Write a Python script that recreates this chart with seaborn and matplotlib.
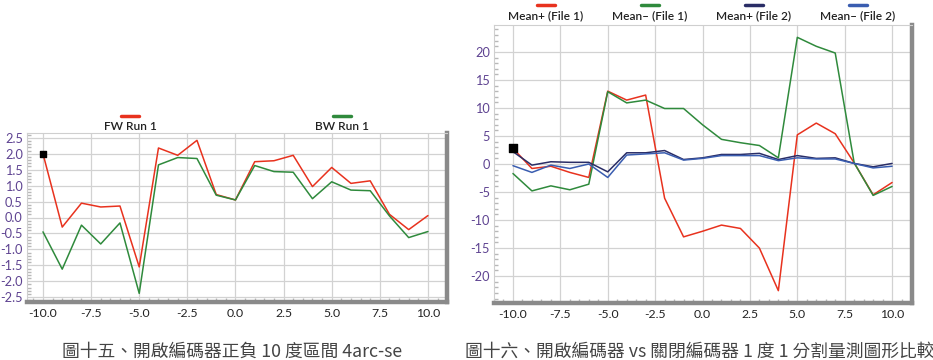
import numpy as np
import pandas as pd
import seaborn as sns
import matplotlib.pyplot as plt
from matplotlib.lines import Line2D
from matplotlib.ticker import MultipleLocator

# Datos: grafico izquierdo (FW / BW)
angulos = [-10, -9, -8, -7, -6, -5, -4, -3, -2, -1, 0, 1, 2, 3, 4, 5, 6, 7, 8, 9, 10]
fw_run1 = [2.0, -0.3, 0.45, 0.33, 0.36, -1.55, 2.18, 1.95, 2.42, 0.72, 0.55,
           1.75, 1.78, 1.95, 0.97, 1.57, 1.07, 1.15, 0.1, -0.38, 0.06]
bw_run1 = [-0.45, -1.62, -0.24, -0.83, -0.17, -2.38, 1.65, 1.88, 1.85, 0.7, 0.55,
           1.63, 1.44, 1.42, 0.59, 1.12, 0.86, 0.84, 0.05, -0.63, -0.44]

# Datos: grafico derecho (File 1 / File 2)
mean_pos_f1 = [2.8, -0.8, -0.4, -1.5, -2.4, 13.0, 11.4, 12.3, -6.1, -13.0, -12.0,
               -10.9, -11.5, -15.0, -22.6, 5.2, 7.3, 5.4, 0.2, -5.5, -3.3]
mean_neg_f1 = [-1.7, -4.8, -3.9, -4.6, -3.6, 12.9, 10.9, 11.4, 9.9, 9.9, 7.0,
               4.4, 3.8, 3.3, 1.1, 22.6, 21.0, 19.8, 0.2, -5.6, -4.0]
mean_pos_f2 = [2.2, -0.2, 0.4, 0.3, 0.3, -1.4, 2.0, 2.0, 2.4, 0.8, 1.1,
               1.7, 1.7, 1.9, 0.8, 1.5, 1.0, 1.1, 0.1, -0.5, 0.1]
mean_neg_f2 = [-0.3, -1.5, -0.2, -0.8, 0.0, -2.4, 1.6, 1.8, 2.0, 0.7, 1.0,
               1.5, 1.5, 1.5, 0.6, 1.1, 0.9, 0.9, 0.1, -0.7, -0.4]

series_izq = ['FW Run 1', 'BW Run 1']
series_der = ['Mean+ (File 1)', 'Mean\u2013 (File 1)', 'Mean+ (File 2)', 'Mean\u2013 (File 2)']
colores_izq = ['#e8321e', '#2f8a3c']
colores_der = ['#e8321e', '#2f8a3c', '#2a2d66', '#3a5db0']

caption_izq = '圖十五、開啟編碼器正負 10 度區間 4arc-se'
caption_der = '圖十六、開啟編碼器 vs 關閉編碼器 1 度 1 分割量測圖形比較'

df_izq = pd.DataFrame({'x': angulos * 2,
                       'y': fw_run1 + bw_run1,
                       'serie': [series_izq[0]] * 21 + [series_izq[1]] * 21})
df_der = pd.DataFrame({'x': angulos * 4,
                       'y': mean_pos_f1 + mean_neg_f1 + mean_pos_f2 + mean_neg_f2,
                       'serie': sum([[s] * 21 for s in series_der], [])})

sns.set_theme(style='whitegrid')
plt.rcParams['font.family'] = ['Lato', 'DejaVu Sans']

fig = plt.figure(figsize=(9.33, 3.6), dpi=100)
ax1 = fig.add_axes([27 / 933, 58 / 360, 420 / 933, 169 / 360])
ax2 = fig.add_axes([494 / 933, 57 / 360, 418 / 933, 278 / 360])


def estilo_ejes(ax, ymajor, yminor):
    ax.xaxis.set_major_locator(MultipleLocator(2.5))
    ax.xaxis.set_minor_locator(MultipleLocator(0.5))
    ax.yaxis.set_major_locator(MultipleLocator(ymajor))
    ax.yaxis.set_minor_locator(MultipleLocator(yminor))
    ax.grid(True, which='major', color='#d2d2d2', linewidth=0.9)
    ax.grid(False, which='minor')
    ax.set_xlabel('')
    ax.set_ylabel('')
    ax.xaxis.set_major_formatter(plt.FuncFormatter(lambda v, p: f'{v:.1f}'))
    ax.tick_params(axis='x', which='major', labelsize=8.8, labelcolor='#222222',
                   length=0, pad=4)
    ax.tick_params(axis='y', which='major', labelsize=9.2, labelcolor='#5e4391',
                   length=0, pad=3)
    ax.tick_params(which='minor', direction='in', length=3, color='#b8b8b8',
                   bottom=True, left=True)
    for s in ['left', 'top']:
        ax.spines[s].set_color('#cfcfcf')
        ax.spines[s].set_linewidth(0.8)
    for s in ['right', 'bottom']:
        ax.spines[s].set_color('#8a8a8a')
        ax.spines[s].set_linewidth(3.2)


def leyenda(ax, nombres, colores, xs, y_linea, y_texto):
    for nombre, color, xc in zip(nombres, colores, xs):
        fig.add_artist(Line2D([(xc - 9) / 933, (xc + 9) / 933],
                              [1 - y_linea / 360, 1 - y_linea / 360],
                              color=color, linewidth=2.5))
        fig.text(xc / 933, 1 - y_texto / 360, nombre, ha='center', va='center',
                 fontsize=8.6, fontweight='semibold', color='#222222')


# Grafico izquierdo
sns.lineplot(data=df_izq, x='x', y='y', hue='serie', palette=colores_izq,
             linewidth=1.1, legend=False, ax=ax1)
ax1.scatter([angulos[0]], [fw_run1[0]], marker='s', s=22, color='black', zorder=5)
ax1.set_xlim(-10.83, 10.99)
ax1.set_ylim(-2.65, 2.65)
estilo_ejes(ax1, 0.5, 0.1)
ax1.yaxis.set_major_formatter(plt.FuncFormatter(lambda v, p: f'{v:.1f}'))
leyenda(ax1, series_izq, colores_izq, [130, 342], 116, 126)

# Grafico derecho
sns.lineplot(data=df_der, x='x', y='y', hue='serie', palette=colores_der,
             linewidth=1.1, legend=False, ax=ax2)
ax2.scatter([angulos[0]], [mean_pos_f1[0]], marker='s', s=26, color='black', zorder=5)
ax2.set_xlim(-11.0, 11.05)
ax2.set_ylim(-24.8, 24.8)
estilo_ejes(ax2, 5, 1)
ax2.set_yticks([-20, -15, -10, -5, 0, 5, 10, 15, 20])
ax2.yaxis.set_major_formatter(plt.FuncFormatter(lambda v, p: f'{v:.0f}'))
leyenda(ax2, series_der, colores_der, [546, 650, 754, 858], 5, 16)

# Leyendas de figura (captions)
fig.text(62 / 933, 1 - 352 / 360, caption_izq, ha='left', va='center',
         fontsize=12.8, color='#444444', family=['Noto Sans CJK TC', 'DejaVu Sans'])
fig.text(465 / 933, 1 - 352 / 360, caption_der, ha='left', va='center',
         fontsize=12.8, color='#444444', family=['Noto Sans CJK TC', 'DejaVu Sans'])

plt.savefig('out.png', dpi=100)
